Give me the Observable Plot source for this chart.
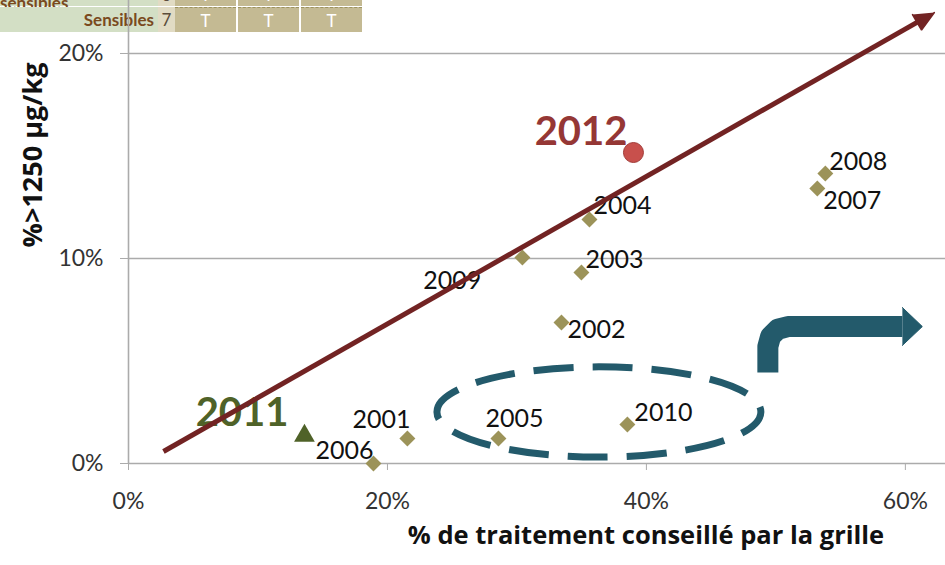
<!DOCTYPE html>
<html>
<head>
<meta charset="utf-8">
<script src="https://cdn.jsdelivr.net/npm/d3@7"></script>
<script src="https://cdn.jsdelivr.net/npm/@observablehq/plot@0.6"></script>
<style>
  html, body { margin: 0; padding: 0; background: #ffffff; }
  #wrap { position: relative; width: 945px; height: 565px; overflow: hidden; font-family: Lato, "Open Sans", sans-serif; }
  #tbl { position: absolute; left: 0; top: 0; width: 370px; height: 34px; z-index: 0; overflow: hidden; }
  #chart { position: absolute; left: 0; top: 0; z-index: 1; }
  .row { position: absolute; left: 0; height: 24px; width: 364px; }
  .cell { position: absolute; top: 0; height: 100%; display: flex; align-items: center; font-size: 17px; line-height: 1; }
  .lab { left: 0; width: 158px; background: #d3dfc5; justify-content: flex-end; color: #7a4a1e; font-weight: bold; }
  .lab span { padding-right: 4px; }
  .num { left: 158px; width: 17px; background: #e1dbc4; justify-content: center; color: #5b4d3b; }
  .t { width: 61px; background: #c4ba93; justify-content: center; color: #ffffff; }
  .r2 .t { border-top: 1px dashed #9d9360; box-sizing: border-box; }
</style>
</head>
<body>
<div id="wrap">
  <div id="tbl">
    <div class="row r1" style="top:-18px;">
      <div class="cell lab"><span>Moyennement sensibles</span></div>
      <div class="cell num">6</div>
      <div class="cell t" style="left:175px;">T</div>
      <div class="cell t" style="left:238px;">T</div>
      <div class="cell t" style="left:301px;">T</div>
    </div>
    <div class="row r2" style="top:7px;height:25px;">
      <div class="cell lab"><span>Sensibles</span></div>
      <div class="cell num">7</div>
      <div class="cell t" style="left:175px;">T</div>
      <div class="cell t" style="left:238px;">T</div>
      <div class="cell t" style="left:301px;">T</div>
    </div>
  </div>
  <div id="chart"></div>
</div>
<script>
// ---- Data ----
const years = ["2001","2002","2003","2004","2005","2006","2007","2008","2009","2010","2011","2012"];
const pctTraitement = [0.2154, 0.3344, 0.3498, 0.3560, 0.2857, 0.1892, 0.5320, 0.5382, 0.3042, 0.3853, 0.1359, 0.3900];
const pctOver1250  = [0.0122, 0.0688, 0.0932, 0.1190, 0.0122, 0.0000, 0.1341, 0.1415, 0.1005, 0.0190, 0.0135, 0.1517];
const xTicks = [0, 0.2, 0.4, 0.6];
const yTicks = [0, 0.1, 0.2];
const xTitle = "% de traitement conseillé par la grille";
const yTitle = "%>1250 µg/kg";

// Annotation geometry (data coordinates)
const trendLine = [[0.0270, 0.00585], [0.6090, 0.2152]];
const trendHead = [[0.6224, 0.2200], [0.6125, 0.2114], [0.6055, 0.2190]];
const bentArrow = [[0.4938, 0.0444], [0.4938, 0.0571], [0.4959, 0.0620], [0.5015, 0.0655], [0.5093, 0.0668], [0.5977, 0.0668]];
const bentHead = [[0.5977, 0.0761], [0.6131, 0.0668], [0.5977, 0.0576]];
const ellipse = {cx: 0.3637, cy: 0.0249, rx: 0.1251, ry: 0.0220};

// ---- Layout / style (not data) ----
const labelLayout = {
  "2001": {anchor: "end",   dx: 3,   dy: -18},
  "2002": {anchor: "start", dx: 6,   dy: 8},
  "2003": {anchor: "start", dx: 4,   dy: -12},
  "2004": {anchor: "start", dx: 4,   dy: -14},
  "2005": {anchor: "start", dx: -13, dy: -19},
  "2006": {anchor: "end",   dx: 0,   dy: -13},
  "2007": {anchor: "start", dx: 6,   dy: 12},
  "2008": {anchor: "start", dx: 4,   dy: -11},
  "2009": {anchor: "end",   dx: -41, dy: 24},
  "2010": {anchor: "start", dx: 7,   dy: -12},
  "2011": {anchor: "end",   dx: -16, dy: -23, size: 40, weight: "bold", color: "#4f6228"},
  "2012": {anchor: "end",   dx: -6,  dy: -20, size: 40, weight: "bold", color: "#953735"}
};
const markerKind = {"2011": "triangle", "2012": "circle"};

const points = years.map((year, i) => ({year, t: pctTraitement[i], p: pctOver1250[i], kind: markerKind[year] || "diamond"}));

const grey = "#ababab";
const maroon = "#722323";
const teal = "#235a6b";

function ellipseMark(index, scales) {
  const x = scales.x, y = scales.y;
  return d3.create("svg:ellipse")
    .attr("cx", x(ellipse.cx))
    .attr("cy", y(ellipse.cy))
    .attr("rx", x(ellipse.cx + ellipse.rx) - x(ellipse.cx))
    .attr("ry", y(ellipse.cy) - y(ellipse.cy + ellipse.ry))
    .attr("fill", "none")
    .attr("stroke", teal)
    .attr("stroke-width", 7)
    .attr("stroke-dasharray", "40,19")
    .attr("stroke-dashoffset", 10)
    .node();
}

const labelMarks = years.map(yr => {
  const L = labelLayout[yr];
  return Plot.text(points.filter(d => d.year === yr), {
    x: "t", y: "p", text: "year",
    textAnchor: L.anchor, dx: L.dx, dy: L.dy,
    fontSize: L.size || 25, fontWeight: L.weight || "normal",
    fill: L.color || "#111111"
  });
});

const chart = Plot.plot({
  width: 945,
  height: 565,
  marginLeft: 128,
  marginRight: 0,
  marginTop: 0,
  marginBottom: 102,
  style: {background: "transparent", fontFamily: "Lato, 'Open Sans', sans-serif"},
  x: {domain: [0, 0.631]},
  y: {domain: [0, 0.22585]},
  marks: [
    Plot.ruleY(yTicks, {stroke: grey, strokeWidth: 1.6}),
    Plot.ruleX([0], {stroke: grey, strokeWidth: 1.6}),
    Plot.axisX(xTicks, {tickSize: 7, tickPadding: 22, fontSize: 23, tickFormat: d3.format(".0%"), stroke: grey, fill: "#333333", label: null}),
    Plot.axisY(yTicks, {tickSize: 8, tickPadding: 17, fontSize: 23, tickFormat: d3.format(".0%"), stroke: grey, fill: "#333333", label: null}),
    Plot.text([xTitle], {frameAnchor: "bottom", text: d => d, textAnchor: "middle", dx: 109, dy: 80, fontSize: 25.5, fontWeight: "bold", fontFamily: "'Open Sans', Lato, sans-serif", fill: "#111111"}),
    Plot.text([yTitle], {frameAnchor: "left", text: d => d, textAnchor: "middle", rotate: -90, dx: -95, dy: -77, fontSize: 27, fontWeight: "bold", fontFamily: "'Open Sans', Lato, sans-serif", fill: "#111111"}),
    ellipseMark,
    Plot.line(bentArrow, {stroke: teal, strokeWidth: 21, strokeLinejoin: "round", strokeLinecap: "butt"}),
    Plot.line(bentHead, {fill: teal, stroke: teal, strokeWidth: 1}),
    Plot.dot(points.filter(d => d.kind === "diamond"), {x: "t", y: "p", symbol: "diamond2", r: 7.2, fill: "#9c9359", stroke: "none"}),
    Plot.dot(points.filter(d => d.kind === "triangle"), {x: "t", y: "p", symbol: "triangle", r: 7.7, fill: "#4f6228", stroke: "none"}),
    Plot.dot(points.filter(d => d.kind === "circle"), {x: "t", y: "p", r: 10, fill: "#c8504c", stroke: "#a13c39", strokeWidth: 1}),
    ...labelMarks,
    Plot.line(trendLine, {stroke: maroon, strokeWidth: 5, strokeLinecap: "butt"}),
    Plot.line(trendHead, {fill: maroon, stroke: maroon, strokeWidth: 1.5, strokeLinejoin: "miter"})
  ]
});

document.getElementById("chart").appendChild(chart);
</script>
</body>
</html>
